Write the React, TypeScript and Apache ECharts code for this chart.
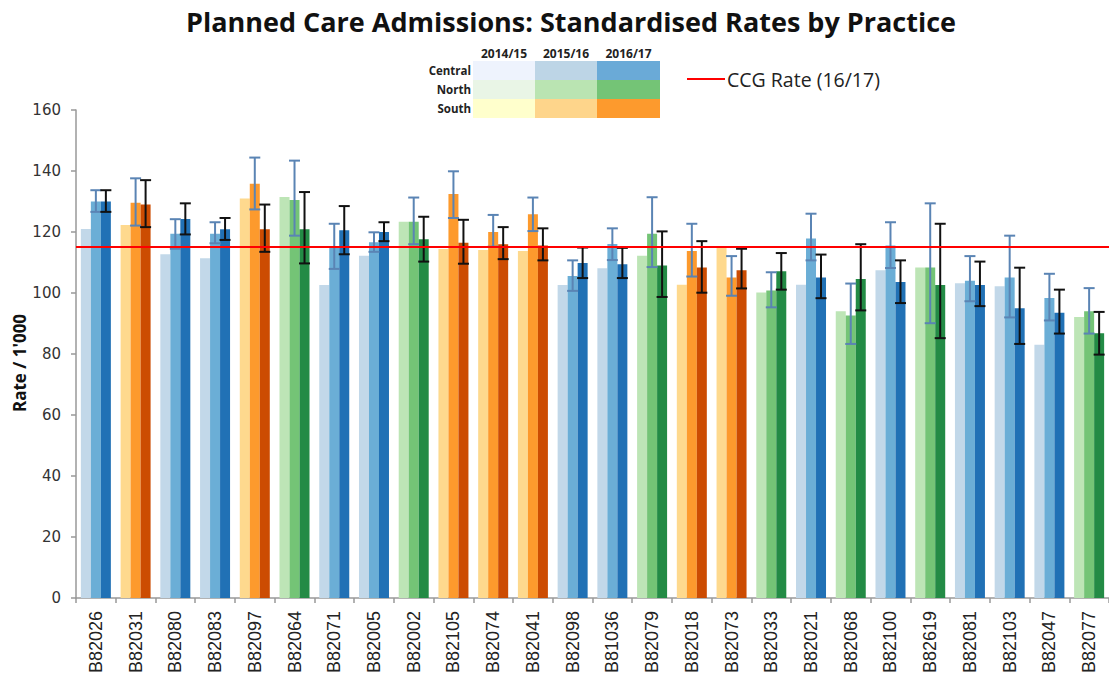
import React, { useEffect, useRef } from "react";
import * as echarts from "echarts";

const practices = ["B82026","B82031","B82080","B82083","B82097","B82064","B82071","B82005","B82002","B82105","B82074","B82041","B82098","B81036","B82079","B82018","B82073","B82033","B82021","B82068","B82100","B82619","B82081","B82103","B82047","B82077"];
const regions = ["C","S","C","C","S","N","C","C","N","S","S","S","C","C","N","S","S","N","C","N","C","N","C","C","C","N"];
const rate1415 = [121.0,122.3,112.7,111.4,131.0,131.5,102.6,112.2,123.4,114.4,114.1,113.8,102.6,108.1,112.2,102.7,115.2,100.2,102.7,94.0,107.5,108.4,103.2,102.2,83.0,92.1];
const rate1516 = [130.0,129.6,119.4,119.4,135.8,130.5,114.9,116.6,123.4,132.5,120.0,125.8,105.6,116.1,119.4,113.8,105.1,100.8,117.9,92.6,115.6,108.4,104.0,105.1,98.4,94.0];
const lo1516 = [126.6,122.1,114.5,116.3,127.4,118.8,107.9,113.5,116.0,124.6,115.2,120.3,100.7,110.8,108.5,105.4,99.1,95.3,110.7,83.3,108.2,90.1,97.3,92.0,91.0,86.7];
const hi1516 = [133.7,137.6,124.2,123.2,144.4,143.4,122.7,119.9,131.3,139.9,125.6,131.3,110.7,121.2,131.4,122.7,112.1,106.8,126.0,103.1,123.2,129.4,112.1,118.8,106.3,101.6];
const rate1617 = [130.0,129.0,124.3,120.9,120.9,120.9,120.6,120.0,117.6,116.5,116.0,115.6,109.8,109.4,109.0,108.4,107.5,107.1,105.1,104.6,103.6,102.6,102.6,95.0,93.5,86.8];
const lo1617 = [126.6,121.6,119.2,117.4,113.5,109.7,112.7,117.0,110.3,109.6,111.1,110.7,104.9,104.9,98.7,100.1,101.5,101.1,98.3,94.3,96.7,85.2,95.7,83.3,86.7,79.8];
const hi1617 = [133.7,137.0,129.4,124.6,129.0,133.1,128.5,123.2,125.0,124.0,121.6,121.2,114.9,114.8,120.2,117.0,114.5,113.1,112.6,116.0,110.7,122.7,110.3,108.3,101.1,93.8];
const ccgRate = 115.1;
const years = ["2014/15", "2015/16", "2016/17"];
const regionNames = ["Central", "North", "South"];
const regionKeys = ["C", "N", "S"];

const barColors: Record<string, string[]> = {
  C: ["#c2d8e9", "#6baed6", "#2171b5"],
  N: ["#bde5b6", "#74c476", "#238b45"],
  S: ["#fed98e", "#fd9a2d", "#cc4c02"],
};
const legendColors: Record<string, string[]> = {
  C: ["#eef3fd", "#bdd5e6", "#6aaad7"],
  N: ["#e9f5e6", "#bae4b2", "#74c476"],
  S: ["#ffffcc", "#fed58b", "#fd9a2d"],
};

function barData(vals: number[], k: number) {
  return vals.map((v, i) => ({ value: v, itemStyle: { color: barColors[regions[i]][k] } }));
}

function errRender(offset: number, color: string) {
  return (params: any, api: any) => {
    const x = api.value(0);
    const lo = api.coord([x, api.value(1)]);
    const hi = api.coord([x, api.value(2)]);
    const cx = lo[0] + offset;
    const cap = 5.5;
    const st = { stroke: color, lineWidth: 2 };
    return {
      type: "group",
      children: [
        { type: "line", shape: { x1: cx, y1: lo[1], x2: cx, y2: hi[1] }, style: st },
        { type: "line", shape: { x1: cx - cap, y1: lo[1], x2: cx + cap, y2: lo[1] }, style: st },
        { type: "line", shape: { x1: cx - cap, y1: hi[1], x2: cx + cap, y2: hi[1] }, style: st },
      ],
    };
  };
}

export default function App() {
  const ref = useRef<HTMLDivElement>(null);
  useEffect(() => {
    if (!ref.current) return;
    const chart = echarts.init(ref.current, null, { renderer: "svg" });

    const legendGraphics: any[] = [];
    const cellX = [473, 535, 597];
    const cellW = [62, 62, 63];
    const rowY = [61, 80, 99];
    const rowH = 19;
    years.forEach((y, j) => {
      legendGraphics.push({
        type: "text", x: cellX[j] + cellW[j] / 2, y: 53,
        style: { text: y, font: "bold 12px 'Open Sans'", fill: "#222", align: "center", verticalAlign: "middle" },
      });
    });
    regionKeys.forEach((rk, r) => {
      legendGraphics.push({
        type: "text", x: 471, y: rowY[r] + rowH / 2,
        style: { text: regionNames[r], font: "bold 11.5px 'Open Sans'", fill: "#222", align: "right", verticalAlign: "middle" },
      });
      for (let j = 0; j < 3; j++) {
        legendGraphics.push({
          type: "rect", shape: { x: cellX[j], y: rowY[r], width: cellW[j], height: rowH },
          style: { fill: legendColors[rk][j] },
        });
      }
    });
    legendGraphics.push({
      type: "line", shape: { x1: 687, y1: 79, x2: 725, y2: 79 }, style: { stroke: "#ff0000", lineWidth: 2 },
    });
    legendGraphics.push({
      type: "text", x: 727, y: 79,
      style: { text: "CCG Rate (16/17)", font: "19.5px 'Open Sans'", fill: "#222", verticalAlign: "middle" },
    });
    legendGraphics.push({
      type: "text", x: 19, y: 363, rotation: Math.PI / 2,
      style: { text: "Rate / 1'000", font: "bold 17px 'Open Sans'", fill: "#111", align: "center", verticalAlign: "middle" },
    });

    chart.setOption({
      animation: false,
      backgroundColor: "#ffffff",
      title: {
        text: "Planned Care Admissions: Standardised Rates by Practice",
        left: 566, top: 3, textAlign: "center",
        textStyle: { fontFamily: "Open Sans", fontWeight: "bold", fontSize: 27, color: "#111" },
      },
      graphic: legendGraphics,
      grid: { left: 76, right: -12, top: 110, bottom: 79, containLabel: false },
      xAxis: {
        type: "category",
        data: practices,
        axisLine: { lineStyle: { color: "#999", width: 1.5 } },
        axisTick: { show: true, length: 5, lineStyle: { color: "#999", width: 1.5 } },
        axisLabel: { rotate: 90, margin: 13, fontFamily: "Liberation Sans", fontSize: 18, color: "#222", interval: 0 },
      },
      yAxis: {
        type: "value",
        min: 0, max: 160, interval: 20,
        splitLine: { show: false },
        axisLine: { show: true, lineStyle: { color: "#999", width: 1.5 } },
        axisTick: { show: true, length: 5, lineStyle: { color: "#999", width: 1.5 } },
        axisLabel: { margin: 15, fontFamily: "DejaVu Sans", fontSize: 15, color: "#333" },
      },
      series: [
        {
          name: years[0], type: "bar", barWidth: 10, barGap: "0%", barCategoryGap: "25%",
          data: barData(rate1415, 0),
          markLine: {
            symbol: "none", silent: true, label: { show: false },
            lineStyle: { color: "#ff0000", width: 2, type: "solid" },
            data: [{ yAxis: ccgRate }],
            z: 10,
          },
        },
        { name: years[1], type: "bar", barWidth: 10, barGap: "0%", data: barData(rate1516, 1) },
        { name: years[2], type: "bar", barWidth: 10, barGap: "0%", data: barData(rate1617, 2) },
        {
          type: "custom", z: 5,
          renderItem: errRender(0, "#5a84b4"),
          encode: { x: 0, y: [1, 2] },
          data: practices.map((_, i) => [i, lo1516[i], hi1516[i]]),
        },
        {
          type: "custom", z: 6,
          renderItem: errRender(10, "#111111"),
          encode: { x: 0, y: [1, 2] },
          data: practices.map((_, i) => [i, lo1617[i], hi1617[i]]),
        },
      ],
    });
    return () => chart.dispose();
  }, []);
  return (
    <div style={{ position: "absolute", left: 0, top: 0, width: 1109, height: 677, overflow: "hidden", background: "#fff" }}>
      <div ref={ref} style={{ width: 1109, height: 677 }} />
    </div>
  );
}
